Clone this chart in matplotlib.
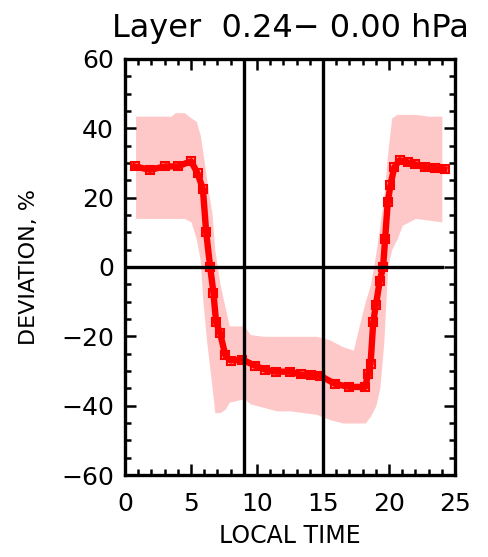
import matplotlib
matplotlib.use("Agg")
import matplotlib.pyplot as plt
from matplotlib.ticker import MultipleLocator

# mean deviation (%) vs local time (h)
HOURS = [0.75, 1.9, 3.0, 4.0, 5.0, 5.5, 5.9, 6.15, 6.45, 6.7, 6.9, 7.2, 7.6, 8.0,
         8.9, 9.85, 10.6, 11.4, 12.5, 13.3, 14.1, 14.8, 15.9, 17.0, 18.2, 18.4,
         18.6, 18.8, 19.0, 19.3, 19.55, 19.7, 19.9, 20.1, 20.4, 20.8, 21.4, 22.0,
         22.7, 23.5, 24.2]
MEAN = [29.0, 28.0, 29.0, 29.0, 30.5, 27.0, 22.5, 10.0, 0.0, -7.5, -16.0, -19.0,
        -25.5, -27.0, -26.7, -28.5, -29.6, -30.2, -30.2, -31.0, -31.2, -31.4,
        -33.7, -34.6, -34.6, -31.0, -28.0, -16.0, -11.0, -4.0, 0.0, 8.0, 18.6,
        23.5, 28.8, 30.8, 30.2, 29.6, 28.8, 28.5, 28.2]

# spread band
BAND_H = [0.8, 1.5, 2.5, 3.5, 3.8, 4.5, 5.0, 5.4, 5.7, 5.9, 6.2, 6.6, 6.8, 7.2,
          7.6, 7.9, 9.0, 9.5, 10.5, 11.5, 12.5, 13.5, 14.5, 15.5, 16.5, 17.3,
          17.8, 18.2, 18.6, 19.0, 19.3, 19.6, 19.9, 20.2, 20.6, 21.0, 22.0,
          23.0, 24.0]
BAND_HI = [43.5, 43.5, 43.5, 43.5, 44.5, 44.5, 43.0, 42.0, 38.0, 33.0, 25.0, 15.0,
           5.0, -5.0, -12.0, -17.0, -17.0, -19.5, -20.0, -20.0, -20.0, -20.0,
           -20.0, -21.0, -23.0, -24.0, -16.0, -10.0, -5.0, 4.0, 12.0, 20.0,
           33.0, 43.0, 44.0, 44.0, 44.0, 43.5, 43.5]
BAND_LO = [14.0, 14.0, 14.0, 14.0, 14.0, 14.0, 13.0, 8.0, 2.0, -10.0, -22.0, -35.0,
           -42.0, -42.0, -41.0, -39.0, -38.0, -39.5, -40.5, -41.5, -41.5, -42.0,
           -42.5, -44.0, -45.0, -45.0, -45.0, -45.0, -43.0, -40.0, -35.0, -22.0,
           0.0, 5.0, 8.0, 12.0, 14.0, 13.5, 13.0]

TITLE = "Layer  0.24\u2212 0.00 hPa"
XLABEL = "LOCAL TIME"
YLABEL = "DEVIATION, %"

fig = plt.figure(figsize=(4.89, 5.57), dpi=100)
ax = fig.add_axes([0.2556, 0.1472, 0.675, 0.747])

ax.fill_between(BAND_H, BAND_LO, BAND_HI, color="#ffc8c8", lw=0, zorder=1)
# open squares underneath, thick line drawn over them
ax.plot(HOURS, MEAN, ls="none", marker="s", ms=6, mfc="none", mec="#ff0000",
        mew=1.5, zorder=2)
ax.plot(HOURS, MEAN, color="#ff0000", lw=4.6, zorder=3)

ax.axvline(9, color="black", lw=2.4, zorder=4)
ax.axvline(15, color="black", lw=2.4, zorder=4)
ax.plot([0, 24], [0, 0], color="black", lw=2.4, zorder=4)

ax.set_xlim(0, 25)
ax.set_ylim(-60, 60)
ax.xaxis.set_major_locator(MultipleLocator(5))
ax.xaxis.set_minor_locator(MultipleLocator(1))
ax.yaxis.set_major_locator(MultipleLocator(20))
ax.yaxis.set_minor_locator(MultipleLocator(5))
ax.tick_params(which="both", direction="in", top=True, right=True,
               width=1.8, labelsize=18)
ax.tick_params(axis="x", pad=12)
ax.tick_params(axis="y", pad=8)
ax.tick_params(which="major", length=8)
ax.tick_params(which="minor", length=4)
for s in ax.spines.values():
    s.set_linewidth(2.4)

ax.set_title(TITLE, fontsize=23, pad=16)
ax.set_xlabel(XLABEL, fontsize=17, labelpad=6)
ax.set_ylabel(YLABEL, fontsize=16, labelpad=16)

fig.savefig("out.png", dpi=100)
